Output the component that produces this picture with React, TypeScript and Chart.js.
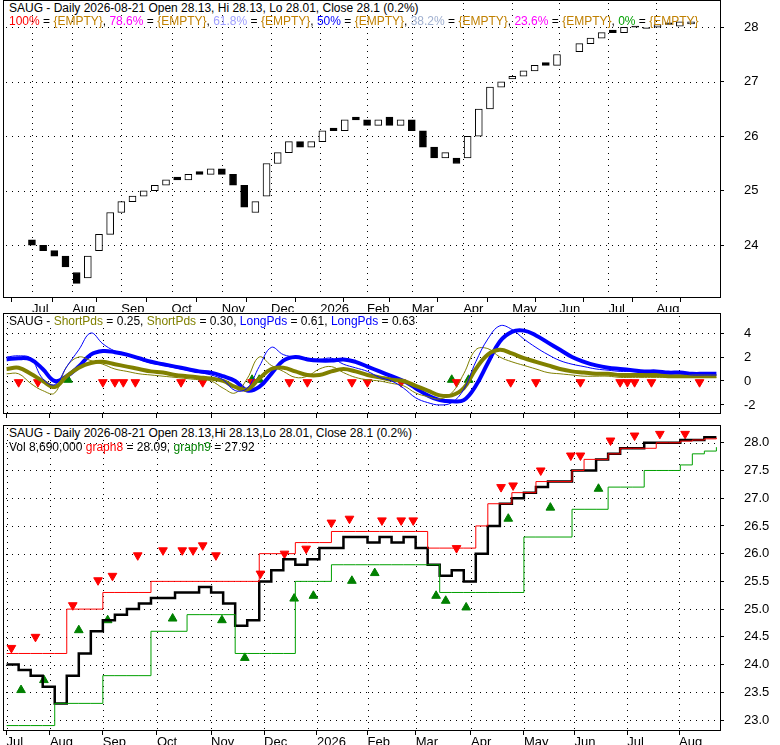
import React, { useEffect, useRef } from "react";
import { Chart, registerables } from "chart.js";
Chart.register(...registerables);

const monthTicks = [0, 3.6, 8, 12.5, 17, 21.4, 25.8, 30, 34, 38.6, 43, 47.2, 51.6, 55.9];
const monthLabels = ["Jul", "Aug", "Sep", "Oct", "Nov", "Dec", "2026", "Feb", "Mar", "Apr", "May", "Jun", "Jul", "Aug"];

const closes = [24.0, 23.9, 23.8, 23.6, 23.3, 23.8, 24.2, 24.6, 24.8, 24.9, 25.0, 25.1, 25.2, 25.2, 25.3, 25.3, 25.4, 25.3, 25.1, 24.7, 24.8, 25.5, 25.7, 25.9, 25.8, 25.9, 26.1, 26.1, 26.3, 26.3, 26.2, 26.3, 26.2, 26.3, 26.1, 25.8, 25.6, 25.7, 25.5, 26.0, 26.5, 26.9, 27.0, 27.1, 27.2, 27.3, 27.3, 27.5, 27.5, 27.7, 27.8, 27.9, 27.9, 28.0, 28.0, 28.0, 28.05, 28.05, 28.1, 28.1];
const opens = [24.1, 24.0, 23.9, 23.8, 23.5, 23.4, 23.9, 24.2, 24.6, 24.8, 24.9, 25.0, 25.1, 25.25, 25.2, 25.35, 25.3, 25.4, 25.3, 25.1, 24.6, 24.9, 25.5, 25.7, 25.9, 25.8, 25.9, 26.15, 26.1, 26.35, 26.3, 26.2, 26.35, 26.2, 26.3, 26.1, 25.8, 25.6, 25.6, 25.6, 26.0, 26.5, 26.9, 27.05, 27.1, 27.2, 27.35, 27.3, 27.5, 27.55, 27.7, 27.8, 27.95, 27.9, 28.02, 27.98, 28.0, 28.08, 28.02, 28.06];

const longThick = [1.8, 1.9, 1.8, 1.0, 0.0, 0.4, 1.2, 2.2, 2.5, 2.4, 2.2, 1.9, 1.6, 1.4, 1.2, 1.0, 0.8, 0.7, 0.4, 0.0, -0.8, -0.5, 0.6, 1.7, 2.0, 1.8, 1.7, 1.7, 1.8, 1.6, 1.2, 0.8, 0.4, 0.0, -0.6, -1.2, -1.6, -1.7, -1.6, -0.4, 1.5, 3.3, 4.1, 4.2, 3.8, 3.2, 2.6, 2.0, 1.6, 1.3, 1.1, 1.0, 0.9, 0.8, 0.8, 0.7, 0.7, 0.6, 0.6, 0.6];
const longThin = [2.0, 2.1, 1.9, 0.2, -0.3, 1.2, 2.6, 4.0, 3.1, 2.5, 2.2, 1.8, 1.5, 1.3, 1.1, 0.9, 0.7, 0.5, 0.1, -0.8, -0.6, 1.2, 2.8, 2.2, 2.0, 1.9, 1.8, 1.9, 1.4, 1.1, 0.8, 0.3, 0.0, -0.6, -1.4, -1.8, -2.0, -1.8, -0.7, 1.6, 3.5, 4.6, 4.3, 3.5, 2.8, 2.2, 1.7, 1.4, 1.2, 1.0, 0.9, 0.8, 0.8, 0.7, 0.7, 0.6, 0.6, 0.5, 0.5, 0.5];
const shortThick = [1.0, 1.1, 0.6, 0.0, -0.5, 0.4, 1.1, 1.5, 1.6, 1.4, 1.2, 1.0, 0.8, 0.7, 0.5, 0.4, 0.3, 0.2, 0.0, -0.5, -0.7, 0.2, 1.0, 1.1, 0.8, 0.5, 0.5, 0.8, 1.0, 0.8, 0.5, 0.3, 0.1, 0.0, -0.4, -0.8, -1.2, -1.2, -0.6, 1.0, 2.2, 2.6, 2.3, 1.9, 1.6, 1.3, 1.0, 0.8, 0.7, 0.6, 0.6, 0.5, 0.5, 0.5, 0.5, 0.4, 0.4, 0.4, 0.4, 0.4];
const shortThin = [0.6, 0.6, -0.2, -0.8, -1.0, 1.2, 2.0, 1.7, 1.4, 1.0, 0.8, 0.6, 0.5, 0.4, 0.3, 0.2, 0.1, 0.0, -0.6, -1.0, 0.2, 2.0, 1.3, 0.8, 0.3, 0.4, 1.0, 1.2, 0.7, 0.3, 0.1, 0.0, -0.2, -0.4, -1.0, -1.3, -1.5, -1.0, 0.6, 2.6, 2.7, 2.0, 1.6, 1.3, 1.0, 0.7, 0.6, 0.5, 0.4, 0.4, 0.4, 0.3, 0.3, 0.3, 0.3, 0.3, 0.3, 0.3, 0.3, 0.3];
const midRedX = [1.0, 2.6, 8.0, 9.0, 9.7, 10.7, 14.5, 16.3, 20.4, 23.5, 25.0, 28.7, 30.0, 32.8, 37.4, 41.9, 44.0, 47.7, 51.0, 51.6, 52.2, 53.6, 57.6];
const midGreenX = [5.1, 20.4, 21.0, 37.0, 38.4];

const graph8 = [24.2, 24.2, 24.2, 24.2, 24.2, 25.0, 25.0, 25.0, 25.3, 25.3, 25.3, 25.3, 25.5, 25.5, 25.5, 25.5, 25.5, 25.5, 25.5, 25.5, 25.5, 26.0, 26.0, 26.0, 26.2, 26.2, 26.2, 26.4, 26.4, 26.4, 26.4, 26.4, 26.4, 26.4, 26.4, 26.1, 26.1, 26.1, 26.1, 26.5, 26.9, 26.9, 27.1, 27.1, 27.3, 27.3, 27.3, 27.5, 27.7, 27.7, 27.8, 27.9, 27.9, 27.9, 28.0, 28.0, 28.03, 28.05, 28.07, 28.09];
const graph9 = [22.9, 22.9, 22.9, 22.9, 23.3, 23.3, 23.3, 23.3, 23.8, 23.8, 23.8, 23.8, 24.6, 24.6, 24.6, 24.9, 24.9, 24.9, 24.9, 24.2, 24.2, 24.2, 24.2, 24.2, 25.5, 25.5, 25.5, 25.8, 25.8, 25.8, 25.8, 25.8, 25.8, 25.8, 25.8, 25.8, 25.3, 25.3, 25.3, 25.3, 25.3, 25.3, 25.3, 26.3, 26.3, 26.3, 26.3, 26.8, 26.8, 26.8, 27.2, 27.2, 27.2, 27.5, 27.5, 27.5, 27.6, 27.8, 27.85, 27.92];
const botRedX = [0.4, 2.4, 5.5, 7.6, 8.8, 10.9, 13.0, 14.6, 15.5, 16.3, 17.4, 21.1, 23.1, 24.9, 27.0, 28.5, 31.2, 32.8, 33.8, 37.4, 41.1, 42.1, 44.4, 46.9, 47.7, 50.2, 52.2, 54.3, 56.4];
const botRedY = [24.3, 24.5, 25.07, 25.52, 25.6, 25.97, 26.06, 26.06, 26.06, 26.15, 25.97, 25.64, 26.0, 26.09, 26.56, 26.63, 26.6, 26.6, 26.6, 26.1, 27.2, 27.23, 27.5, 27.77, 27.77, 28.04, 28.13, 28.16, 28.16];
const botGreenX = [1.2, 3.1, 6.0, 8.4, 13.8, 17.9, 19.8, 23.9, 25.5, 28.7, 30.6, 35.7, 36.5, 38.2, 41.7, 45.2, 49.2];
const botGreenY = [23.54, 23.72, 24.62, 24.8, 24.83, 24.8, 24.12, 25.19, 25.24, 25.51, 25.65, 25.24, 25.15, 25.03, 26.63, 26.83, 27.17];

const FONT = "'Liberation Sans', Arial, sans-serif";
const idx = closes.map((_, i) => i);

function xScale(showLabels: boolean, h: number) {
  return {
    type: "linear", min: -0.3, max: 59.3,
    afterBuildTicks: (ax: any) => { ax.ticks = monthTicks.map((v) => ({ value: v })); },
    afterFit: (ax: any) => { ax.height = h; ax.paddingLeft = 0; ax.paddingRight = 0; ax.paddingTop = 0; ax.paddingBottom = 0; },
    ticks: {
      display: showLabels, align: "start", autoSkip: false, maxRotation: 0, minRotation: 0,
      font: { family: FONT, size: 13 }, color: "#000", padding: 0,
      callback: (v: number) => monthLabels[monthTicks.indexOf(v)] ?? "",
    },
    grid: { color: "#000", lineWidth: 1, drawOnChartArea: false, tickLength: 5 },
    border: { display: true, color: "#000" },
  } as any;
}
function yScale(min: number, max: number, tickVals: number[], fmt: (v: number) => string) {
  return {
    type: "linear", position: "right", min, max,
    afterBuildTicks: (ax: any) => { ax.ticks = tickVals.map((v) => ({ value: v })); },
    afterFit: (ax: any) => { ax.width = 60; ax.paddingTop = 0; ax.paddingBottom = 0; ax.paddingLeft = 0; ax.paddingRight = 0; },
    ticks: { font: { family: FONT, size: 13 }, color: "#000", padding: 20, callback: (v: number) => fmt(v) },
    grid: { color: "#000", lineWidth: 1, drawOnChartArea: false, tickLength: 4 },
    border: { display: true, color: "#000" },
  } as any;
}
const frame = {
  id: "frame",
  beforeDraw(chart: any) {
    const ctx = chart.ctx;
    ctx.save(); ctx.fillStyle = "#fff"; ctx.fillRect(0, 0, chart.width, chart.height); ctx.restore();
  },
  beforeDatasetsDraw(chart: any) {
    const ctx = chart.ctx; const a = chart.chartArea;
    ctx.save(); ctx.fillStyle = "#000";
    const xs = chart.scales.x; const ys = chart.scales.y;
    ys.ticks.forEach((t: any) => {
      const py = Math.round(ys.getPixelForValue(t.value));
      for (let px = a.left + 3; px < a.right; px += 6) ctx.fillRect(px, py, 1, 1);
    });
    xs.ticks.forEach((t: any) => {
      const px = Math.round(xs.getPixelForValue(t.value));
      if (px <= a.left + 2) return;
      for (let py = a.top + 3; py < a.bottom; py += 6) ctx.fillRect(px, py, 1, 1);
    });
    ctx.strokeStyle = "#000"; ctx.lineWidth = 1;
    ctx.strokeRect(Math.round(a.left) + 0.5, Math.round(a.top) + 0.5, Math.round(a.right - a.left), Math.round(a.bottom - a.top));
    ctx.restore();
  },
};

function Panel({ make, h, top }: { make: () => any; h: number; top: number }) {
  const ref = useRef<HTMLCanvasElement>(null);
  useEffect(() => {
    const c = new Chart(ref.current!, make());
    return () => c.destroy();
  }, []);
  return <div style={{ width: 780, height: h, position: "absolute", left: 0, top }}><canvas ref={ref} /></div>;
}

function opts(xLabels: boolean, xh: number, y: any) {
  return {
    animation: false, responsive: true, maintainAspectRatio: false,
    layout: { padding: { left: 3, top: 0, right: 0, bottom: 0 }, autoPadding: false },
    plugins: { legend: { display: false }, title: { display: false }, tooltip: { enabled: false } },
    scales: { x: xScale(xLabels, xh), y },
  };
}

export default function App() {
  const arrowDown = { pointStyle: "triangle", rotation: 180 };
  return (
    <div style={{ position: "absolute", left: 0, top: 0, width: 780, height: 745, background: "#fff", fontFamily: FONT }}>
      <Panel top={0} h={312} make={() => ({
        type: "bar",
        data: {
          datasets: [{
            data: idx.map((i) => ({ x: i, y: [opens[i], closes[i]] })),
            backgroundColor: idx.map((i) => (closes[i] >= opens[i] ? "#fff" : "#000")),
            borderColor: "#000", borderWidth: 1, barThickness: 7, borderSkipped: false,
          }],
        },
        options: opts(true, 15, yScale(23.05, 28.5, [24, 25, 26, 27, 28], (v) => String(v))),
        plugins: [frame],
      })} />
      <Panel top={313} h={112} make={() => ({
        type: "line",
        data: {
          datasets: [
            { data: longThin.map((v, i) => ({ x: i, y: v })), borderColor: "#0000ff", borderWidth: 1, pointRadius: 0, tension: 0.4 },
            { data: shortThin.map((v, i) => ({ x: i, y: v })), borderColor: "#808000", borderWidth: 1, pointRadius: 0, tension: 0.4 },
            { data: shortThick.map((v, i) => ({ x: i, y: v })), borderColor: "#808000", borderWidth: 4, pointRadius: 0, tension: 0.4 },
            { data: longThick.map((v, i) => ({ x: i, y: v })), borderColor: "#0000ff", borderWidth: 4, pointRadius: 0, tension: 0.4 },
            { type: "scatter", data: midRedX.map((x) => ({ x, y: -0.1 })), backgroundColor: "#ff0000", borderColor: "#ff0000", pointRadius: 5, ...arrowDown },
            { type: "scatter", data: midGreenX.map((x) => ({ x, y: 0.1 })), backgroundColor: "#008000", borderColor: "#008000", pointRadius: 5, pointStyle: "triangle" },
          ],
        },
        options: opts(false, 12, yScale(-2.67, 5.67, [-2, 0, 2, 4], (v) => String(v))),
        plugins: [frame],
      })} />
      <Panel top={425} h={320} make={() => ({
        type: "line",
        data: {
          datasets: [
            { data: graph9.map((v, i) => ({ x: i, y: v })), borderColor: "#00a000", borderWidth: 1, pointRadius: 0, stepped: true },
            { data: graph8.map((v, i) => ({ x: i, y: v })), borderColor: "#ff0000", borderWidth: 1, pointRadius: 0, stepped: true },
            { data: closes.map((v, i) => ({ x: i, y: v })), borderColor: "#000", borderWidth: 2.5, pointRadius: 0, stepped: true },
            { type: "scatter", data: botRedX.map((x, i) => ({ x, y: botRedY[i] })), backgroundColor: "#ff0000", borderColor: "#ff0000", pointRadius: 5, ...arrowDown },
            { type: "scatter", data: botGreenX.map((x, i) => ({ x, y: botGreenY[i] })), backgroundColor: "#008000", borderColor: "#008000", pointRadius: 5, pointStyle: "triangle" },
          ],
        },
        options: opts(true, 15, yScale(22.82, 28.32, [23, 23.5, 24, 24.5, 25, 25.5, 26, 26.5, 27, 27.5, 28], (v) => v.toFixed(1))),
        plugins: [frame],
      })} />
      <div style={{ position: "absolute", left: 9, top: 1, fontSize: 12, whiteSpace: "nowrap", background: "#fff" }}>
        SAUG - Daily 2026-08-21 Open 28.13, Hi 28.13, Lo 28.01, Close 28.1 (0.2%)
      </div>
      <div style={{ position: "absolute", left: 9, top: 14, fontSize: 12, whiteSpace: "nowrap" }}>
        <span style={{ color: "#ff0000" }}>100%</span> = <span style={{ color: "#c08000" }}>{"{EMPTY}"}</span>, <span style={{ color: "#ff00ff" }}>78.6%</span> = <span style={{ color: "#c08000" }}>{"{EMPTY}"}</span>, <span style={{ color: "#a0a0ff" }}>61.8%</span> = <span style={{ color: "#c08000" }}>{"{EMPTY}"}</span>, <span style={{ color: "#0000ff" }}>50%</span> = <span style={{ color: "#c08000" }}>{"{EMPTY}"}</span>, <span style={{ color: "#a0b0d0" }}>38.2%</span> = <span style={{ color: "#c08000" }}>{"{EMPTY}"}</span>, <span style={{ color: "#ff00ff" }}>23.6%</span> = <span style={{ color: "#c08000" }}>{"{EMPTY}"}</span>, <span style={{ color: "#00a000" }}>0%</span> = <span style={{ color: "#c08000" }}>{"{EMPTY}"}</span>
      </div>
      <div style={{ position: "absolute", left: 9, top: 314, fontSize: 12, whiteSpace: "nowrap", background: "#fff" }}>
        SAUG - <span style={{ color: "#808000" }}>ShortPds</span> = 0.25, <span style={{ color: "#808000" }}>ShortPds</span> = 0.30, <span style={{ color: "#0000ff" }}>LongPds</span> = 0.61, <span style={{ color: "#0000ff" }}>LongPds</span> = 0.63
      </div>
      <div style={{ position: "absolute", left: 9, top: 426, fontSize: 12, whiteSpace: "nowrap", background: "#fff" }}>
        SAUG - Daily 2026-08-21 Open 28.13,Hi 28.13,Lo 28.01, Close 28.1 (0.2%)
      </div>
      <div style={{ position: "absolute", left: 9, top: 440, fontSize: 12, whiteSpace: "nowrap" }}>
        Vol 8,690,000 <span style={{ color: "#ff0000" }}>graph8</span> = 28.09, <span style={{ color: "#008000" }}>graph9</span> = 27.92
      </div>
    </div>
  );
}
